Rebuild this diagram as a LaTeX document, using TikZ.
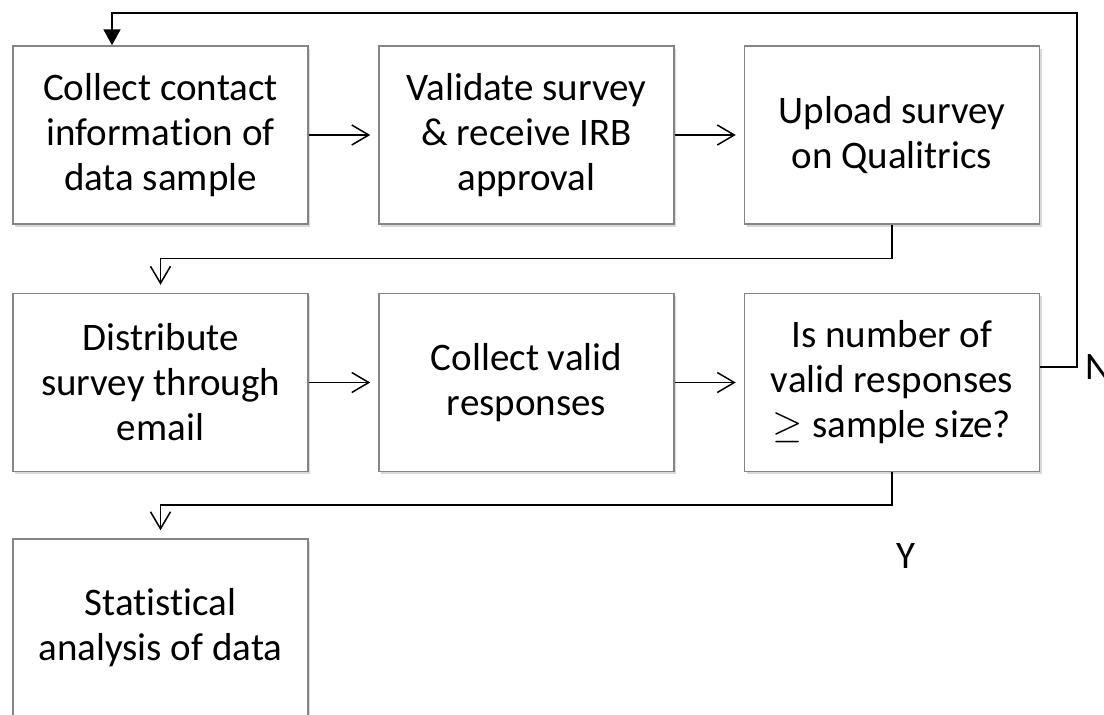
\RequirePackage{fix-cm}
\documentclass[tikz,border=0pt]{standalone}
\usepackage{fontspec}
\setmainfont{Carlito}[Ligatures={NoCommon}]
\usetikzlibrary{arrows.meta,shadows}
\definecolor{boxgray}{HTML}{858585}
\begin{document}
\begin{tikzpicture}[x=1pt,y=-1pt,
  box/.style={draw=boxgray, line width=1.5pt, fill=white,
    minimum width=295pt, minimum height=178pt, inner sep=0pt,
    align=center, font=\fontsize{39}{45}\selectfont,
    drop shadow={shadow xshift=2pt,shadow yshift=-2.5pt,opacity=0.3}},
  lbl/.style={font=\fontsize{39}{45}\selectfont, inner sep=0pt},
  flow/.style={line width=1.5pt, -{Straight Barb[length=17pt,width=20pt,line width=1.5pt]}, shorten >=8pt},
  back/.style={line width=2pt, -{Triangle[length=16pt,width=17pt]}}]
\useasboundingbox (0,0) rectangle (1104,715);
\clip (0,0) rectangle (1104,715);

\node[box] (b1) at (160.5,135) {Collect contact\\information of\\data sample};
\node[box] (b2) at (526.5,135) {Validate survey\\\& receive IRB\\approval};
\node[box] (b3) at (892,135) {Upload survey\\on Qualitrics};
\node[box] (b4) at (160.5,382.5) {Distribute\\survey through\\email};
\node[box] (b5) at (526.5,382.5) {Collect valid\\responses};
\node[box] (b6) at (892,382.5) {Is number of\\valid responses\\$\geq$ sample size?};
\node[box] (b7) at (160.5,628) {Statistical\\analysis of data};

\node[lbl, anchor=west] (N) at (1085,367) {N};
\node[lbl] (Y) at (906,556) {Y};

\coordinate (m1) at (0,258.5);
\coordinate (m2) at (0,505);
\coordinate (nA) at (1077,367);
\coordinate (tp) at (112,13);

\draw[flow] (b1.east) -- (b2.west);
\draw[flow] (b2.east) -- (b3.west);
\draw[flow] (b3.south) -- (b3.south |- m1) -| (b4.north);
\draw[flow] (b4.east) -- (b5.west);
\draw[flow] (b5.east) -- (b6.west);
\draw[flow] (b6.south) -- (b6.south |- m2) -| (b7.north);
\draw[back] (b6.east |- nA) -- (nA) |- (tp) -- (tp |- b1.north);
\end{tikzpicture}
\end{document}
